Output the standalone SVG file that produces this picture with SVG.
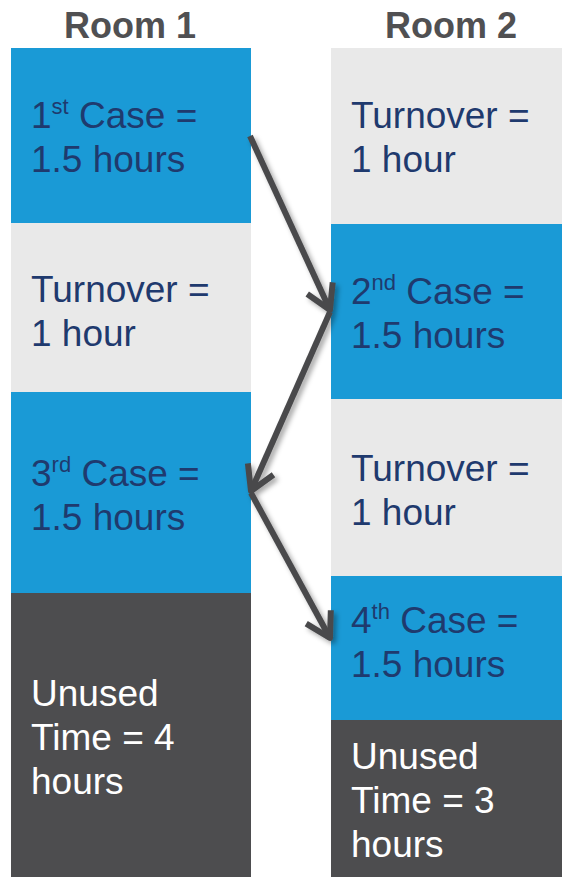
<svg xmlns="http://www.w3.org/2000/svg" width="562" height="877" viewBox="0 0 562 877">
<style>
.title{font-family:"Liberation Sans",Arial,sans-serif;font-weight:bold;font-size:36px;fill:#505052;text-anchor:middle}
.t{font-family:"Liberation Sans",Arial,sans-serif;font-size:37px;fill:#1f3a6e}
.w{font-family:"Liberation Sans",Arial,sans-serif;font-size:37px;fill:#ffffff}
.sup{font-size:22px}
.blue{fill:#1a9ad6}
.grey{fill:#e9e9e9}
.dark{fill:#4d4d4f}
.arrow{stroke:#4a4a4c;stroke-width:6;fill:none;stroke-linecap:butt;marker-end:url(#chev)}
</style>
<defs>
<marker id="chev" markerUnits="userSpaceOnUse" orient="auto" markerWidth="40" markerHeight="40" refX="0" refY="0" viewBox="-30 -20 40 40" overflow="visible">
<path d="M -24,-14 L 0,0 L -24,14" fill="none" stroke="#4a4a4c" stroke-width="6" stroke-linejoin="round" stroke-linecap="butt"/>
</marker>
<filter id="sh" x="-20%" y="-20%" width="140%" height="140%">
<feDropShadow dx="3" dy="3" stdDeviation="2.5" flood-color="#000" flood-opacity="0.35"/>
</filter>
</defs>
<rect width="562" height="877" fill="#ffffff"/>
<text class="title" x="130" y="38">Room 1</text>
<text class="title" x="451" y="38">Room 2</text>

<g id="r1-case1"><rect class="blue" x="11" y="48" width="240" height="175"/>
<text class="t" x="31" y="128">1<tspan class="sup" dy="-14">st</tspan><tspan dy="14"> Case =</tspan></text>
<text class="t" x="31" y="172">1.5 hours</text></g>
<g id="r1-turn1"><rect class="grey" x="11" y="223" width="240" height="169"/>
<text class="t" x="31" y="302">Turnover =</text>
<text class="t" x="31" y="346">1 hour</text></g>
<g id="r1-case3"><rect class="blue" x="11" y="392" width="240" height="201"/>
<text class="t" x="31" y="486">3<tspan class="sup" dy="-14">rd</tspan><tspan dy="14"> Case =</tspan></text>
<text class="t" x="31" y="530">1.5 hours</text></g>
<g id="r1-unused"><rect class="dark" x="11" y="593" width="240" height="284"/>
<text class="w" x="31" y="706">Unused</text>
<text class="w" x="31" y="750">Time = 4</text>
<text class="w" x="31" y="794">hours</text></g>

<g id="r2-turn1"><rect class="grey" x="331" y="48" width="231" height="176"/>
<text class="t" x="351" y="128">Turnover =</text>
<text class="t" x="351" y="172">1 hour</text></g>
<g id="r2-case2"><rect class="blue" x="331" y="224" width="231" height="175"/>
<text class="t" x="351" y="304">2<tspan class="sup" dy="-14">nd</tspan><tspan dy="14"> Case =</tspan></text>
<text class="t" x="351" y="348">1.5 hours</text></g>
<g id="r2-turn2"><rect class="grey" x="331" y="399" width="231" height="177"/>
<text class="t" x="351" y="481">Turnover =</text>
<text class="t" x="351" y="525">1 hour</text></g>
<g id="r2-case4"><rect class="blue" x="331" y="576" width="231" height="144"/>
<text class="t" x="351" y="633">4<tspan class="sup" dy="-14">th</tspan><tspan dy="14"> Case =</tspan></text>
<text class="t" x="351" y="677">1.5 hours</text></g>
<g id="r2-unused"><rect class="dark" x="331" y="720" width="231" height="157"/>
<text class="w" x="351" y="769">Unused</text>
<text class="w" x="351" y="813">Time = 3</text>
<text class="w" x="351" y="857">hours</text></g>

<g id="connectors" filter="url(#sh)">
<line class="arrow" x1="250" y1="136" x2="330" y2="310"/>
<line class="arrow" x1="330" y1="312" x2="251" y2="491"/>
<line class="arrow" x1="251" y1="493" x2="330" y2="638"/>
</g>
</svg>
